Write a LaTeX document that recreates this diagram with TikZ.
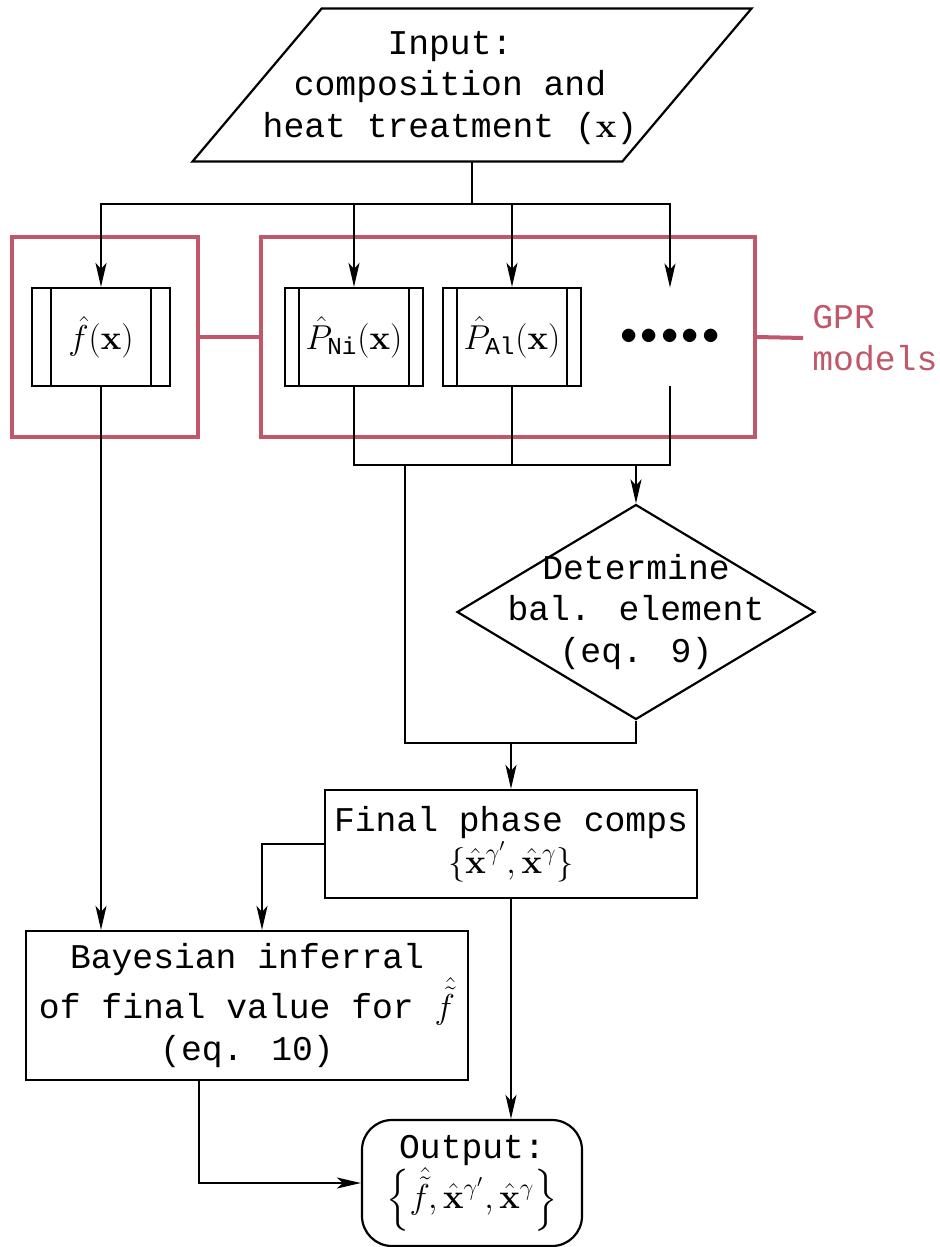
\documentclass[tikz,border=0pt]{standalone}
\usepackage{amsmath}
\usepackage[no-math]{fontspec}
\setmainfont{Liberation Mono}
\usetikzlibrary{shapes.geometric,arrows.meta,calc}
\definecolor{gprred}{RGB}{192,88,106}
\begin{document}
\begin{tikzpicture}[x=0.5pt,y=-0.5pt,
  txt/.style={font=\fontsize{17.35}{20.8}\selectfont, align=center, inner sep=0pt},
  line/.style={line width=1.1pt, black},
  arr/.style={line, -{Stealth[length=12pt,width=5.5pt,inset=3pt]}},
  box/.style={draw, line width=1.1pt, txt},
  ppbox/.style={box, minimum width=69pt, minimum height=49pt,
    path picture={\draw[line width=1.1pt]
      ([xshift=#1]path picture bounding box.north west) -- ([xshift=#1]path picture bounding box.south west)
      ([xshift=-#1]path picture bounding box.north east) -- ([xshift=-#1]path picture bounding box.south east);}},
  gprbox/.style={draw=gprred, line width=2pt, inner sep=0pt, minimum height=100pt},
  gprline/.style={draw=gprred, line width=2pt}
]
\useasboundingbox (0,0) rectangle (940,1247);

% GPR groups
\node[gprbox, minimum width=93pt] (gprL) at (105,337) {};
\node[gprbox, minimum width=247pt] (gprR) at (508,337) {};
\node[txt, text=gprred, align=left, anchor=west, inner xsep=4.5pt] (gprlab) at (803,338) {GPR\\models};
\draw[gprline] (gprL.east) -- (gprR.west);
\draw[gprline] (gprR.east) -- (gprlab.west);

% input (parallelogram)
\node[minimum width=279pt, minimum height=76pt, inner sep=0pt] (in) at (472,85) {};
\draw[line, line join=miter] (in.south west) -- ([xshift=64.5pt]in.north west) -- (in.north east)
  -- ([xshift=-64.5pt]in.south east) -- cycle;
\node[txt] (intext) at (450,88) {Input:\\composition and\\heat treatment ($\mathbf{x}$)};

% GPR model boxes
\node[ppbox=9.5pt] (fbox) at (101,337) {$\hat{f}(\mathbf{x})$};
\node[ppbox=7pt] (ni) at (354,337) {$\hat{P}_{\text{Ni}}(\mathbf{x})$};
\node[ppbox=7pt] (al) at (512,337) {$\hat{P}_{\text{Al}}(\mathbf{x})$};
\node[txt, minimum height=49pt] (dots) at (670,337)
  {${\bullet}\mkern1.6mu{\bullet}\mkern1.6mu{\bullet}\mkern1.6mu{\bullet}\mkern1.6mu{\bullet}$};

% decision
\node[draw, line width=1.1pt, diamond, minimum width=179pt, minimum height=107.5pt, inner sep=0pt] (dia) at (636,612) {};
\node[txt] (diatext) at (dia.center) {Determine\\bal. element\\(eq. 9)};

% final comps
\node[box, minimum width=186pt, minimum height=54pt] (final) at (511,844)
  {Final phase comps\\$\{\hat{\mathbf{x}}^{\gamma'},\hat{\mathbf{x}}^{\gamma}\}$};

% bayes
\node[box, minimum width=221pt, minimum height=74.5pt] (bayes) at (247,1005.5)
  {Bayesian inferral\\of final value for $\hat{\tilde{f}}$\\(eq. 10)};

% output
\node[box, rounded corners=15pt, minimum width=110pt, minimum height=63pt] (out) at (472,1183)
  {Output:\\$\Big\{\hat{\tilde{f}},\hat{\mathbf{x}}^{\gamma'},\hat{\mathbf{x}}^{\gamma}\Big\}$};

% connectors
\coordinate (split) at (472,204);
\coordinate (j1) at (405,465);
\coordinate (j2) at (405,743);
\draw[line] (in.south) -- (split);
\draw[arr] (split) -| (fbox.north);
\draw[arr] (split) -| (ni.north);
\draw[arr] (split) -| (al.north);
\draw[arr] (split) -| (dots.north);

\draw[line] (ni.south) |- (dots.south |- j1) -- (dots.south);
\draw[line] (al.south) -- (al.south |- j1);
\draw[arr] (dia.north |- j1) -- (dia.north);
\draw[line] (j1) -- (j2) -| (dia.south);
\draw[arr] (final.north |- j2) -- (final.north);

\draw[arr] (final.west) -| ([xshift=7.5pt]bayes.north);
\draw[arr] (fbox.south) -- (fbox.south |- bayes.north);
\draw[arr] (final.south) -- (final.south |- out.north);
\draw[arr] ([xshift=-24pt]bayes.south) |- (out.west);
\end{tikzpicture}
\end{document}
